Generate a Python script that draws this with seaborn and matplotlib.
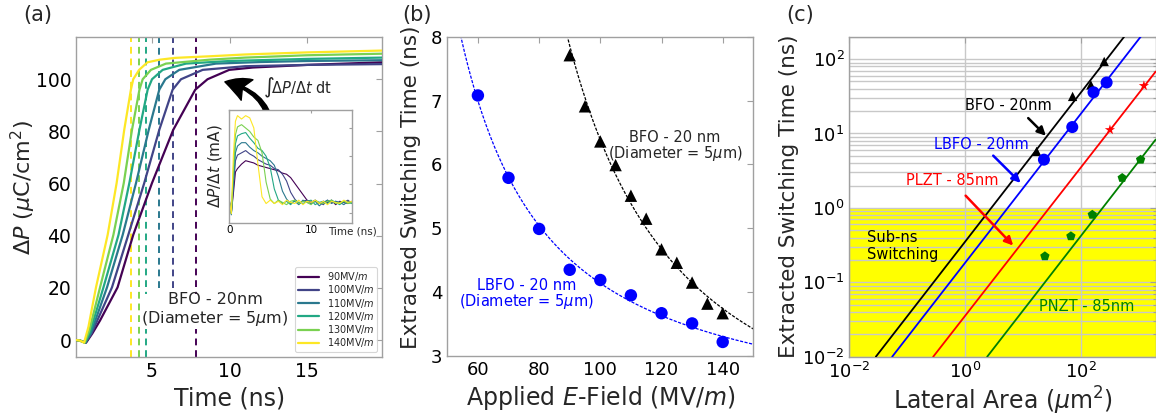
import numpy as np
import pandas as pd
import matplotlib
matplotlib.use("Agg")
import matplotlib.pyplot as plt
import matplotlib.ticker as mticker
import seaborn as sns

# ---------------- Panel (a): polarization transients ----------------
FIELDS = [90, 100, 110, 120, 130, 140]
FIELD_LABELS = ["90MV/$m$", "100MV/$m$", "110MV/$m$", "120MV/$m$", "130MV/$m$", "140MV/$m$"]
SWITCH_T_A = [7.83, 6.33, 5.47, 4.63, 4.16, 3.63]

T_90 = [0.1, 0.35, 0.75, 1.15, 1.65, 2.78, 3.79, 5.0, 6.37, 7.79, 8.58, 9.98, 11.5, 15, 19.85]
P_90 = [0, -0.2, -1.0, 2.5, 7.5, 20.2, 40.3, 60.2, 80.6, 96, 100, 103.6, 104.5, 105.5, 106.5]
T_100 = [0.1, 0.35, 0.72, 1.1, 2.42, 3.47, 4.50, 5.47, 6.33, 6.87, 8.27, 11, 15, 19.85]
P_100 = [0, -0.2, -1.0, 2.5, 20.2, 40.3, 60.2, 80.6, 96, 100, 103.6, 105, 105.5, 105.8]
T_110 = [0.1, 0.35, 0.7, 1.05, 2.10, 3.11, 3.97, 4.79, 5.47, 5.86, 6.76, 9.12, 12, 15, 19.85]
P_110 = [0, -0.2, -1.0, 2.5, 20.2, 40.3, 60.2, 80.6, 96, 100, 103.6, 106, 106.6, 107, 107.3]
T_120 = [0.1, 0.35, 0.68, 1.0, 1.87, 2.84, 3.54, 4.19, 4.72, 5.0, 5.69, 7.19, 10, 15, 19.85]
P_120 = [0, -0.2, -1.0, 3, 20.2, 40.3, 60.2, 80.6, 96, 100, 103.6, 106, 107, 107.8, 108.3]
T_130 = [0.1, 0.35, 0.65, 0.95, 1.65, 2.51, 3.18, 3.71, 4.19, 4.40, 4.93, 5.90, 8.7, 11, 15, 19.85]
P_130 = [0, -0.2, -1.0, 3.5, 20.2, 40.3, 60.2, 80.6, 96, 100, 103.6, 106, 107.5, 108.3, 109.2, 109.8]
T_140 = [0.1, 0.35, 0.62, 0.9, 1.39, 2.14, 2.72, 3.21, 3.64, 3.79, 4.17, 4.71, 5.5, 6.5, 8.7, 11.0, 15, 19.85]
P_140 = [0, -0.2, -1.0, 5, 20.2, 40.3, 60.2, 80.6, 96, 100, 103.6, 106.5, 107.5, 108.2, 108.8, 109.5, 110.3, 111]

# inset: switching current (arb. units)
T_IN = [0, 0.25, 0.5, 0.75, 1.0, 1.5, 2.0, 2.5, 3.0, 3.5, 4.0, 4.5, 5.0, 5.5, 6.0, 6.5, 7.0,
        7.5, 8.0, 8.5, 9.0, 9.5, 10.0, 10.5, 11.0, 11.5, 12.0, 12.5, 13.0, 13.5, 14.0, 14.5, 15.0]
I_140 = [19, 8, 60, 90, 95, 92, 95, 93, 84, 52, 23, 17, 20, 17, 19, 16, 20, 18, 17, 20, 16, 19, 18,
         20, 17, 19, 16, 19, 18, 17, 20, 18, 19]
I_130 = [20, 9, 48, 78, 85, 87, 84, 81, 76, 73, 62, 36, 21, 17, 20, 18, 16, 19, 20, 17, 19, 18, 16,
         20, 18, 17, 19, 20, 17, 18, 19, 17, 18]
I_120 = [18, 8, 42, 70, 77, 79, 80, 75, 71, 66, 64, 59, 49, 30, 20, 17, 19, 16, 20, 18, 17, 19, 20,
         16, 18, 19, 17, 20, 18, 16, 19, 18, 17]
I_110 = [19, 7, 36, 62, 68, 71, 71, 67, 64, 62, 59, 57, 55, 51, 41, 28, 21, 17, 19, 16, 20, 18, 17,
         19, 15, 18, 20, 17, 19, 18, 16, 19, 18]
I_100 = [18, 8, 31, 55, 60, 62, 64, 61, 59, 56, 54, 52, 51, 48, 47, 43, 37, 27, 21, 17, 19, 20, 17,
         19, 18, 16, 20, 18, 19, 17, 18, 20, 17]
I_90 = [20, 9, 26, 45, 48, 52, 55, 54, 53, 51, 50, 49, 48, 47, 46, 44, 43, 40, 35, 30, 25, 20, 18,
        20, 17, 19, 18, 20, 16, 19, 18, 17, 19]

# ---------------- Panel (b): switching time vs field ----------------
E_LBFO = [60, 70, 80, 90, 100, 110, 120, 130, 140]
T_LBFO = [7.08, 5.79, 4.99, 4.35, 4.19, 3.95, 3.67, 3.51, 3.22]
E_BFO = [90, 95, 100, 105, 110, 115, 120, 125, 130, 135, 140]
T_BFO = [7.71, 6.91, 6.36, 5.99, 5.51, 5.15, 4.67, 4.46, 4.15, 3.82, 3.67]

# ---------------- Panel (c): switching time vs area ----------------
A_BFO = [17.4, 73, 151, 257]
TS_BFO = [5.75, 31.5, 45, 93]
A_LBFO = [23.3, 72, 168, 283]
TS_LBFO = [4.45, 12.2, 35.8, 48.5]
A_PLZT = [323, 1250]
TS_PLZT = [11.2, 43.8]
A_PNZT = [24.2, 68.2, 160, 527, 1096]
TS_PNZT = [0.224, 0.416, 0.81, 2.53, 4.45]
# trend lines (read end points)
FIT_A_BFO, FIT_T_BFO = [0.0288, 570], [0.01, 200]
FIT_A_LBFO, FIT_T_LBFO = [0.0552, 1100], [0.01, 200]
FIT_A_PLZT, FIT_T_PLZT = [0.283, 2000], [0.01, 68]
FIT_A_PNZT, FIT_T_PNZT = [2.43, 2000], [0.01, 8.3]

# ---------------- style ----------------
sns.set_theme(style="white")
plt.rcParams["font.family"] = ["DejaVu Sans"]
plt.rcParams["mathtext.fontset"] = "dejavusans"
SPINE = "#a0a0a0"

W, H = 1156, 416
fig = plt.figure(figsize=(W / 100, H / 100), dpi=100)


def rect(l, t, r, b):
    return [l / W, 1 - b / H, (r - l) / W, (b - t) / H]


axA = fig.add_axes(rect(76, 37, 382.3, 357))
axIn = fig.add_axes(rect(229.3, 110, 352, 222.7))
axB = fig.add_axes(rect(447.3, 36.7, 753.3, 356))
axC = fig.add_axes(rect(849.3, 36.7, 1155.7, 356.7))


def style_axes(ax, size):
    for s in ax.spines.values():
        s.set_color(SPINE)
        s.set_linewidth(1.0)
    ax.tick_params(which="both", direction="in", top=True, right=True, color=SPINE,
                   labelsize=size, length=4, width=0.8, labelcolor="black")


cols = [plt.cm.viridis(v) for v in np.linspace(0, 1, 6)]

# ---- panel (a)
T_LIST = [T_90, T_100, T_110, T_120, T_130, T_140]
P_LIST = [P_90, P_100, P_110, P_120, P_130, P_140]
for i, ts in enumerate(SWITCH_T_A):
    ymin = 0.0 if FIELDS[i] not in (100, 110) else (20 + 6.5) / (116.2 + 6.5)
    axA.axvline(ts, ymin=ymin, ymax=1, color=cols[i], ls=(0, (3.5, 2.5)), lw=1.4, zorder=1)
for i in range(6):
    sns.lineplot(x=T_LIST[i], y=P_LIST[i], ax=axA, color=cols[i], lw=1.6, label=FIELD_LABELS[i],
                 sort=False, zorder=3)
axA.set_xlim(0.1, 19.85)
axA.set_ylim(-6.5, 116.2)
axA.set_xticks([5, 10, 15])
axA.set_yticks([0, 20, 40, 60, 80, 100])
style_axes(axA, 13.5)
axA.set_xlabel("Time (ns)", fontsize=17, labelpad=4)
axA.set_ylabel(r"$\Delta P$ ($\mu$C/cm$^2$)", fontsize=16, labelpad=4)
axA.yaxis.set_label_coords(-0.125, 0.53)
leg = axA.legend(loc="lower right", fontsize=7, handlelength=2.2, labelspacing=0.02,
                 borderaxespad=0.5, borderpad=0.3, frameon=True, fancybox=True)
leg.get_frame().set_edgecolor("#cccccc")
leg.get_frame().set_linewidth(0.8)
axA.text(9.06, 11.4, "BFO - 20nm\n(Diameter = 5$\\mu$m)", ha="center", va="center",
         fontsize=11.5, linespacing=1.15, zorder=4,
         bbox=dict(facecolor="white", edgecolor="none", pad=0.5))
axA.annotate("", xy=(9.7, 99), xytext=(12.67, 74.4),
             arrowprops=dict(arrowstyle="fancy,head_length=1.0,head_width=1.0,tail_width=0.35",
                             connectionstyle="arc3,rad=0.45", color="black",
                             shrinkA=0, shrinkB=0, mutation_scale=17), zorder=6)
axA.text(12.15, 96.7, r"$\int\!\Delta P/\Delta t$ dt", ha="left", va="center", fontsize=10.5)

# ---- inset
I_LIST = [I_90, I_100, I_110, I_120, I_130, I_140]
for i in range(6):
    sns.lineplot(x=T_IN, y=I_LIST[i], ax=axIn, color=cols[i], lw=0.8, sort=False, legend=False)
axIn.set_xlim(0, 15)
axIn.set_ylim(0, 100)
axIn.set_xticks([0, 10])
axIn.set_yticks([9, 34, 59, 84])
axIn.set_yticklabels([])
style_axes(axIn, 7.5)
axIn.tick_params(pad=2, length=2.5)
axIn.set_xlabel("")
axIn.set_ylabel(r"$\Delta P/\Delta t$ (mA)", fontsize=11, labelpad=2)
axIn.text(1.0, -0.03, "Time (ns)", transform=axIn.transAxes, ha="center", va="top", fontsize=7.5)
axIn.set_facecolor("white")

# ---- panel (b)
Eg = np.linspace(50, 150, 300)
for E, T, col in [(E_LBFO, T_LBFO, "#0000ff"), (E_BFO, T_BFO, "black")]:
    k, c = np.polyfit(1.0 / np.array(E, float), np.log(T), 1)
    sns.lineplot(x=Eg, y=np.exp(c + k / Eg), ax=axB, color=col, lw=0.9, ls=(0, (2.5, 1.2)),
                 legend=False)
sns.scatterplot(x=E_LBFO, y=T_LBFO, ax=axB, color="#0000ff", marker="o", s=80, edgecolor="none",
                zorder=4, legend=False)
sns.scatterplot(x=E_BFO, y=T_BFO, ax=axB, color="black", marker="^", s=80, edgecolor="none",
                zorder=4, legend=False)
axB.set_xlim(50, 150)
axB.set_ylim(3, 8)
axB.set_xticks([60, 80, 100, 120, 140])
axB.set_yticks([3, 4, 5, 6, 7, 8])
style_axes(axB, 13)
axB.set_xlabel("Applied $E$-Field (MV/$m$)", fontsize=17, labelpad=4)
axB.set_ylabel("Extracted Switching Time (ns)", fontsize=15.5, labelpad=6)
axB.yaxis.set_label_coords(-0.085, 0.53)
axB.text(124.4, 6.28, "BFO - 20 nm\n(Diameter = 5$\\mu$m)", ha="center", va="center",
         fontsize=10.5, linespacing=0.95)
axB.text(75.9, 3.96, "LBFO - 20 nm\n(Diameter = 5$\\mu$m)", ha="center", va="center",
         fontsize=10.5, linespacing=0.95, color="#0000ff")

# ---- panel (c)
axC.set_xscale("log")
axC.set_yscale("log")
axC.axhspan(0.01, 1.0, color="#ffff00", zorder=0.5, lw=0)
for fa, ft, col in [(FIT_A_BFO, FIT_T_BFO, "black"), (FIT_A_LBFO, FIT_T_LBFO, "#0000ff"),
                    (FIT_A_PLZT, FIT_T_PLZT, "#ff0000"), (FIT_A_PNZT, FIT_T_PNZT, "#008000")]:
    sns.lineplot(x=fa, y=ft, ax=axC, color=col, lw=1.3, legend=False, zorder=3)
sns.scatterplot(x=A_BFO, y=TS_BFO, ax=axC, color="black", marker="^", s=45, edgecolor="none",
                zorder=4, legend=False)
sns.scatterplot(x=A_LBFO, y=TS_LBFO, ax=axC, color="#0000ff", marker="o", s=75, edgecolor="none",
                zorder=4, legend=False)
sns.scatterplot(x=A_PLZT, y=TS_PLZT, ax=axC, color="#ff0000", marker="*", s=60, edgecolor="none",
                zorder=4, legend=False)
sns.scatterplot(x=A_PNZT, y=TS_PNZT, ax=axC, color="#008000", marker="p", s=50, edgecolor="none",
                zorder=4, legend=False)
axC.set_xlim(0.01, 2000)
axC.set_ylim(0.01, 200)
axC.xaxis.set_major_locator(mticker.FixedLocator([1e-2, 1, 1e2]))
axC.xaxis.set_minor_locator(mticker.NullLocator())
axC.yaxis.set_major_locator(mticker.LogLocator(base=10, numticks=10))
axC.yaxis.set_minor_locator(mticker.LogLocator(base=10, subs=np.arange(2, 10), numticks=10))
axC.grid(True, which="major", axis="both", color="#c8c8c8", lw=1.0)
axC.grid(True, which="minor", axis="y", color="#c8c8c8", lw=1.0)
style_axes(axC, 13)
axC.tick_params(which="minor", length=2)
axC.set_xlabel(r"Lateral Area ($\mu$m$^2$)", fontsize=17, labelpad=2)
axC.set_ylabel("Extracted Switching Time (ns)", fontsize=15.5, labelpad=2)
axC.text(5.55, 23.6, "BFO - 20nm", ha="center", va="center", fontsize=10.5, color="black")
axC.text(1.945, 7.08, "LBFO - 20nm", ha="center", va="center", fontsize=10.5, color="#0000ff")
axC.text(0.608, 2.35, "PLZT - 85nm", ha="center", va="center", fontsize=10.5, color="#ff0000")
axC.text(0.02, 0.305, "Sub-ns\nSwitching", ha="left", va="center", fontsize=10.5,
         color="black", linespacing=1.15)
axC.text(129, 0.0473, "PNZT - 85nm", ha="center", va="center", fontsize=10.5, color="#008000")
for (x0, y0), (x1, y1), col in [((12.45, 16.1), (25.2, 9.33), "black"),
                                 ((3.09, 5.04), (9.2, 2.17), "#0000ff"),
                                 ((1.03, 1.46), (6.85, 0.312), "#ff0000")]:
    axC.annotate("", xy=(x1, y1), xytext=(x0, y0),
                 arrowprops=dict(arrowstyle="-|>,head_length=0.5,head_width=0.25", color=col, lw=1.8,
                                 shrinkA=0, shrinkB=0, mutation_scale=10), zorder=5)

# panel letters
fig.text(38 / W, 1 - 15 / H, "(a)", ha="center", va="center", fontsize=15)
fig.text(417 / W, 1 - 15 / H, "(b)", ha="center", va="center", fontsize=15)
fig.text(800 / W, 1 - 15 / H, "(c)", ha="center", va="center", fontsize=15)

fig.savefig("out.png", dpi=100)
